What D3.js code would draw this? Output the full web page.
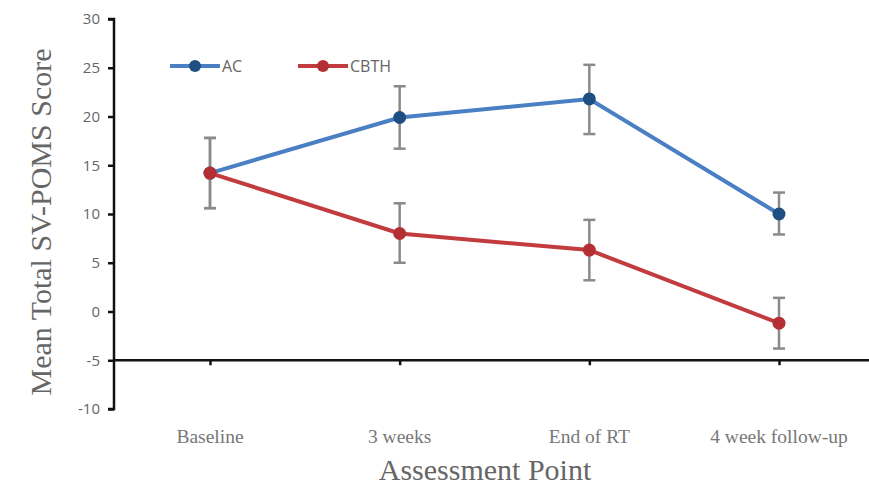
<!DOCTYPE html>
<html><head><meta charset="utf-8">
<script src="https://cdn.jsdelivr.net/npm/d3@7"></script>
<style>body{margin:0;background:#fff}svg{display:block}</style>
</head><body>
<svg id="c" width="869" height="489"></svg>
<script>
const categories = ["Baseline", "3 weeks", "End of RT", "4 week follow-up"];
const acMean = [14.2, 19.9, 21.8, 10.0];
const acErrHi = [17.8, 23.1, 25.3, 12.2];
const acErrLo = [10.6, 16.7, 18.2, 7.9];
const cbthMean = [14.2, 8.0, 6.3, -1.2];
const cbthErrHi = [17.8, 11.1, 9.4, 1.4];
const cbthErrLo = [10.6, 5.0, 3.2, -3.8];
const yTicks = [-10, -5, 0, 5, 10, 15, 20, 25, 30];

const svg = d3.select("#c");
const x = d3.scalePoint().domain(categories).range([210, 779]);
const y = d3.scaleLinear().domain([-10, 30]).range([409, 19]);
const axisX = 114;

// y axis
const ya = svg.append("g").attr("transform", `translate(${axisX},0)`)
  .call(d3.axisLeft(y).tickValues(yTicks).tickSize(6).tickPadding(8).tickFormat(d => String(d)));
ya.select(".domain").attr("stroke", "#111").attr("stroke-width", 2.5)
  .attr("d", `M-6,${y(30)}H0V${y(-10)}H-6`);
ya.selectAll(".tick line").attr("stroke", "#111").attr("stroke-width", 2.5);
ya.selectAll(".tick text").attr("fill", "#666").style("font-family", "'Open Sans', sans-serif").style("font-size", "15px");

// x axis at -5
const xa = svg.append("g").attr("transform", `translate(0,${y(-5)})`)
  .call(d3.axisBottom(x).tickSize(5).tickFormat(""));
xa.select(".domain").attr("stroke", "#111").attr("stroke-width", 2.5).attr("d", `M${axisX},0H869`);
xa.selectAll(".tick line").attr("stroke", "#111").attr("stroke-width", 2.5);

// x category labels
svg.append("g").selectAll("text").data(categories).join("text")
  .attr("x", d => x(d)).attr("y", 443).attr("text-anchor", "middle")
  .attr("fill", "#777").style("font-family", "'Liberation Serif', serif").style("font-size", "19.5px")
  .text(d => d);

// titles
svg.append("text").attr("x", 485).attr("y", 480).attr("text-anchor", "middle")
  .attr("fill", "#666").style("font-family", "'Liberation Serif', serif").style("font-size", "30px")
  .text("Assessment Point");
svg.append("text").attr("transform", `translate(51,${222}) rotate(-90)`).attr("text-anchor", "middle")
  .attr("fill", "#666").style("font-family", "'Liberation Serif', serif").style("font-size", "30px")
  .text("Mean Total SV-POMS Score");

const series = [
  {name: "AC", mean: acMean, hi: acErrHi, lo: acErrLo, line: "#4a7fc4", dot: "#1f4f82"},
  {name: "CBTH", mean: cbthMean, hi: cbthErrHi, lo: cbthErrLo, line: "#c23b3e", dot: "#b42f33"}
];

// error bars
series.forEach(s => {
  const g = svg.append("g");
  categories.forEach((c, i) => {
    const cx = x(c);
    g.append("line").attr("x1", cx).attr("x2", cx).attr("y1", y(s.hi[i])).attr("y2", y(s.lo[i]))
      .attr("stroke", "#8a8a8a").attr("stroke-width", 2.5);
    [s.hi[i], s.lo[i]].forEach(v => g.append("line").attr("x1", cx - 6).attr("x2", cx + 6)
      .attr("y1", y(v)).attr("y2", y(v)).attr("stroke", "#8a8a8a").attr("stroke-width", 2.5));
  });
});

// lines and points
const line = d3.line().x((d, i) => x(categories[i])).y(d => y(d));
series.forEach(s => {
  svg.append("path").datum(s.mean).attr("d", line).attr("fill", "none")
    .attr("stroke", s.line).attr("stroke-width", 4);
  svg.append("g").selectAll("circle").data(s.mean).join("circle")
    .attr("cx", (d, i) => x(categories[i])).attr("cy", d => y(d)).attr("r", 6.5).attr("fill", s.dot);
});

// legend
const leg = [{s: series[0], x0: 170}, {s: series[1], x0: 298}];
leg.forEach(l => {
  const ly = 66;
  svg.append("line").attr("x1", l.x0).attr("x2", l.x0 + 50).attr("y1", ly).attr("y2", ly)
    .attr("stroke", l.s.line).attr("stroke-width", 4);
  svg.append("circle").attr("cx", l.x0 + 25).attr("cy", ly).attr("r", 6).attr("fill", l.s.dot);
  svg.append("text").attr("x", l.x0 + 52).attr("y", ly + 6).attr("fill", "#666")
    .style("font-family", "'Open Sans', sans-serif").style("font-size", "16px").text(l.s.name);
});
</script>
</body></html>
